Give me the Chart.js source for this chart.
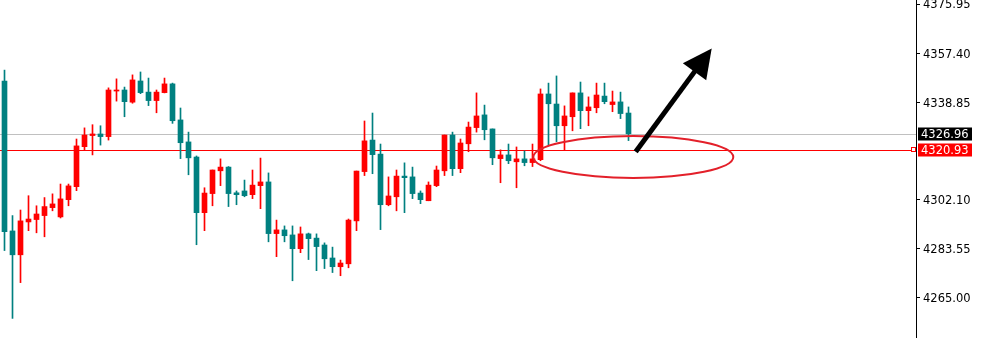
<!DOCTYPE html>
<html>
<head>
<meta charset="utf-8">
<script src="https://cdn.jsdelivr.net/npm/chart.js@4"></script>
<style>
  html, body { margin: 0; padding: 0; background: #fff; }
  #wrap { width: 983px; height: 338px; }
</style>
</head>
<body>
<div id="wrap"><canvas id="myChart" width="983" height="338"></canvas></div>
<script>
// candle values (oldest first)
const opens = [4346.9, 4290.3, 4281.3, 4293.7, 4294.6, 4296.1, 4299.1, 4295.6, 4302.1, 4307.0,
  4322.1, 4326.3, 4326.9, 4325.9, 4343.1, 4343.5, 4338.9, 4346.9, 4342.7, 4339.5,
  4342.5, 4345.8, 4332.2, 4323.9, 4318.2, 4297.2, 4304.4, 4313.0, 4314.4, 4304.7,
  4305.4, 4304.0, 4307.4, 4308.8, 4289.3, 4290.7, 4288.8, 4283.6, 4289.2, 4287.6,
  4285.0, 4280.1, 4276.8, 4277.9, 4294.1, 4312.7, 4324.6, 4319.3, 4300.2, 4303.2,
  4311.0, 4310.7, 4304.6, 4301.7, 4307.4, 4313.0, 4326.5, 4313.8, 4323.2, 4329.3,
  4334.1, 4328.8, 4317.6, 4319.0, 4316.4, 4317.5, 4316.1, 4317.2, 4342.0, 4338.2,
  4330.0, 4333.4, 4342.4, 4335.7, 4336.8, 4341.2, 4338.0, 4339.0, 4334.8];
const highs = [4351.0, 4296.1, 4298.2, 4303.6, 4299.8, 4302.9, 4304.3, 4308.0, 4308.0, 4325.0,
  4329.2, 4330.4, 4330.0, 4344.3, 4347.7, 4344.6, 4349.2, 4350.3, 4348.0, 4343.5,
  4348.0, 4346.1, 4336.7, 4327.6, 4318.6, 4306.6, 4313.3, 4317.5, 4314.6, 4305.4,
  4309.5, 4313.3, 4317.8, 4312.2, 4294.4, 4292.2, 4292.2, 4291.8, 4289.5, 4289.2,
  4285.8, 4284.2, 4279.3, 4294.8, 4312.9, 4331.8, 4334.8, 4323.1, 4310.7, 4313.3,
  4316.0, 4314.4, 4305.4, 4308.8, 4314.8, 4326.5, 4327.6, 4325.0, 4331.4, 4342.4,
  4337.8, 4328.8, 4320.9, 4323.1, 4322.0, 4320.5, 4323.1, 4343.9, 4346.1, 4348.8,
  4337.5, 4342.4, 4346.5, 4340.9, 4346.1, 4346.1, 4343.1, 4342.7, 4337.1];
const lows = [4282.9, 4257.3, 4270.8, 4290.4, 4289.6, 4288.1, 4297.9, 4295.2, 4299.8, 4305.5,
  4320.9, 4319.0, 4322.7, 4324.6, 4339.3, 4333.4, 4338.5, 4342.1, 4337.6, 4334.9,
  4342.4, 4330.9, 4317.6, 4311.5, 4285.1, 4290.4, 4299.8, 4307.4, 4299.5, 4300.2,
  4303.2, 4302.5, 4298.7, 4286.2, 4280.6, 4286.2, 4271.5, 4282.1, 4279.5, 4275.3,
  4276.1, 4274.6, 4273.4, 4276.4, 4290.4, 4311.2, 4311.9, 4290.8, 4299.8, 4297.9,
  4297.2, 4302.5, 4300.6, 4301.7, 4307.0, 4311.2, 4311.2, 4312.3, 4320.2, 4327.6,
  4324.7, 4315.3, 4308.5, 4315.7, 4306.6, 4314.9, 4314.6, 4316.8, 4322.7, 4324.0,
  4320.9, 4328.1, 4328.9, 4330.0, 4334.9, 4338.3, 4335.3, 4332.7, 4324.4];
const closes = [4290.0, 4281.3, 4294.1, 4294.8, 4296.7, 4299.5, 4300.5, 4302.4, 4307.3, 4322.4,
  4326.5, 4326.9, 4325.9, 4343.5, 4343.5, 4339.1, 4347.3, 4342.5, 4339.5, 4342.7,
  4345.8, 4331.9, 4323.6, 4317.9, 4297.2, 4304.6, 4313.3, 4314.4, 4304.4, 4304.0,
  4303.6, 4307.6, 4308.8, 4289.3, 4290.7, 4288.5, 4283.6, 4289.2, 4287.4, 4284.4,
  4279.8, 4276.8, 4278.2, 4294.4, 4312.9, 4324.3, 4319.1, 4300.2, 4303.5, 4311.0,
  4310.4, 4304.4, 4302.1, 4307.6, 4313.3, 4326.5, 4313.8, 4323.5, 4329.5, 4333.7,
  4328.5, 4317.9, 4319.0, 4316.8, 4317.5, 4316.1, 4317.5, 4342.0, 4338.3, 4330.0,
  4333.7, 4342.4, 4335.7, 4337.1, 4341.6, 4339.1, 4339.0, 4334.6, 4326.96];

const priceTicks = [4375.95, 4357.40, 4338.85, 4302.10, 4283.55, 4265.00];
const bidPrice = 4326.96;
const levelPrice = 4320.93;

// drawn annotations, in candle index / price units
const ellipseMark = { x: 78.6, y: 4318.2, rx: 12.5, ry: 7.9 };
const arrowMark = { x0: 78.9, y0: 4320.2, x1: 88.4, y1: 4359.2 };

const upColor = '#ff0000';
const downColor = '#008080';
const candleColors = closes.map((c, i) => c >= opens[i] ? upColor : downColor);

const axisFont = { family: 'Tahoma, "DejaVu Sans", sans-serif', size: 11.5 };

const overlay = {
  id: 'overlay',
  beforeDatasetsDraw(chart) {
    const { ctx, chartArea, scales } = chart;
    const yb = Math.round(scales.y.getPixelForValue(bidPrice)) + 0.5;
    const yl = Math.round(scales.y.getPixelForValue(levelPrice)) + 0.5;
    ctx.save();
    ctx.lineWidth = 1;
    ctx.strokeStyle = '#c0c0c0';
    ctx.beginPath(); ctx.moveTo(chartArea.left, yb); ctx.lineTo(chartArea.right, yb); ctx.stroke();
    ctx.strokeStyle = '#ff0000';
    ctx.beginPath(); ctx.moveTo(chartArea.left, yl); ctx.lineTo(chartArea.right, yl); ctx.stroke();
    ctx.restore();
  },
  afterDatasetsDraw(chart) {
    const { ctx, scales } = chart;
    const x = scales.x, y = scales.y;
    ctx.save();
    // ellipse
    const cx = x.getPixelForValue(ellipseMark.x);
    const cy = y.getPixelForValue(ellipseMark.y);
    const rx = x.getPixelForValue(ellipseMark.x + ellipseMark.rx) - cx;
    const ry = y.getPixelForValue(ellipseMark.y - ellipseMark.ry) - cy;
    ctx.strokeStyle = '#e3202a';
    ctx.lineWidth = 2;
    ctx.beginPath();
    ctx.ellipse(cx, cy, rx, ry, 0, 0, Math.PI * 2);
    ctx.stroke();
    // arrow
    const ax0 = x.getPixelForValue(arrowMark.x0), ay0 = y.getPixelForValue(arrowMark.y0);
    const ax1 = x.getPixelForValue(arrowMark.x1), ay1 = y.getPixelForValue(arrowMark.y1);
    const ang = Math.atan2(ay1 - ay0, ax1 - ax0);
    const headLen = 29, headHalf = 14.5;
    const bx = ax1 - headLen * Math.cos(ang), by = ay1 - headLen * Math.sin(ang);
    ctx.strokeStyle = '#000';
    ctx.fillStyle = '#000';
    ctx.lineWidth = 5;
    ctx.beginPath(); ctx.moveTo(ax0, ay0); ctx.lineTo(bx + 2 * Math.cos(ang), by + 2 * Math.sin(ang)); ctx.stroke();
    ctx.beginPath();
    ctx.moveTo(ax1, ay1);
    ctx.lineTo(bx + headHalf * Math.sin(ang), by - headHalf * Math.cos(ang));
    ctx.lineTo(bx - headHalf * Math.sin(ang), by + headHalf * Math.cos(ang));
    ctx.closePath();
    ctx.fill();
    ctx.restore();
  },
  afterDraw(chart) {
    const { ctx, chartArea, scales } = chart;
    const left = chartArea.right;
    ctx.save();
    ctx.font = axisFont.size + 'px ' + axisFont.family;
    ctx.textBaseline = 'middle';
    const boxes = [[bidPrice, '#000000'], [levelPrice, '#ff0000']];
    boxes.forEach(([p, bg]) => {
      const py = Math.round(scales.y.getPixelForValue(p));
      ctx.fillStyle = bg;
      ctx.fillRect(left + 2, py - 6.5, 54, 13);
      ctx.fillStyle = '#fff';
      ctx.fillText(p.toFixed(2), left + 5, py + 1);
    });
    // small square where the level line meets the axis
    const ly = Math.round(scales.y.getPixelForValue(levelPrice));
    ctx.strokeStyle = '#ff0000';
    ctx.lineWidth = 1;
    ctx.fillStyle = '#fff';
    ctx.fillRect(left - 4.5, ly - 2.5, 4, 4);
    ctx.strokeRect(left - 4.5, ly - 2.5, 4, 4);
    ctx.restore();
  }
};

const ctx = document.getElementById('myChart').getContext('2d');
const myChart = new Chart(ctx, {
  type: 'bar',
  data: {
    datasets: [
      {
        label: 'body',
        data: opens.map((o, i) => ({ x: i, y: [o, closes[i]] })),
        backgroundColor: candleColors,
        barThickness: 5,
        minBarLength: 1,
        grouped: false,
        order: 0
      },
      {
        label: 'wick',
        data: lows.map((l, i) => ({ x: i, y: [l, highs[i]] })),
        backgroundColor: candleColors,
        barThickness: 1,
        grouped: false,
        order: 1
      }
    ]
  },
  options: {
    responsive: false,
    animation: false,
    layout: { padding: 0 },
    plugins: { legend: { display: false }, tooltip: { enabled: false } },
    scales: {
      x: {
        type: 'linear',
        display: false,
        offset: false,
        min: -0.5625,
        max: 113.9375
      },
      y: {
        position: 'right',
        min: 4249.9,
        max: 4377.46,
        afterBuildTicks: s => { s.ticks = priceTicks.map(v => ({ value: v })); },
        afterFit: s => { s.width = 67; s.paddingTop = 0; s.paddingBottom = 0; },
        grid: { drawOnChartArea: false, tickLength: 4, color: '#000' },
        border: { color: '#000', width: 1 },
        ticks: {
          color: '#000',
          font: axisFont,
          padding: 3,
          labelOffset: 1.5,
          autoSkip: false,
          callback: v => Number(v).toFixed(2)
        }
      }
    }
  },
  plugins: [overlay]
});
</script>
</body>
</html>
